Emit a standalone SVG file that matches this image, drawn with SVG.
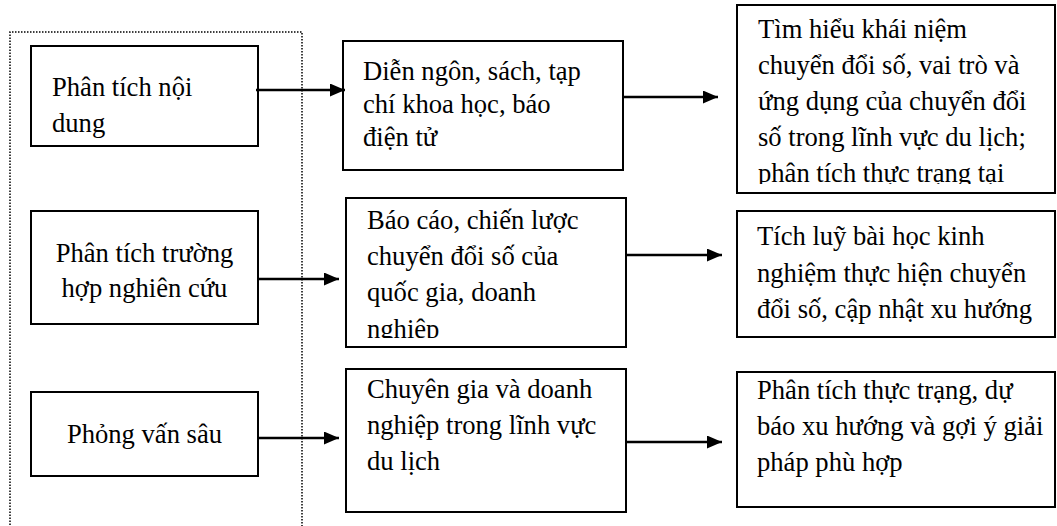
<svg xmlns="http://www.w3.org/2000/svg" width="1057" height="526" viewBox="0 0 1057 526">
<style>
.box{fill:#fff;stroke:#000;stroke-width:2}
.t{font-family:'Liberation Serif','DejaVu Serif',serif;font-size:26.6px;fill:#000}
.c{text-anchor:middle}
.conn line{stroke:#000;stroke-width:2.4}
</style>
<defs>
<marker id="ah" viewBox="0 0 15 13" refX="15" refY="6.5" markerWidth="15" markerHeight="13" markerUnits="userSpaceOnUse" orient="auto">
<path d="M0,0 L15,6.5 L0,13 Z" fill="#000"/>
</marker>
<clipPath id="clip1"><rect x="737" y="5" width="318" height="179"/></clipPath>
<clipPath id="clip2"><rect x="346" y="198" width="280" height="140"/></clipPath>
</defs>
<path id="frame" d="M10,540 L10,32 L302,32 L302,540" fill="none" stroke="#000" stroke-width="1.5" stroke-dasharray="1.5 1.5"/>
<g id="n1"><rect class="box" x="31" y="46" width="227" height="100"/>
<text class="t" x="52" y="96">Phân tích nội</text><text class="t" x="52" y="132">dung</text></g>
<g id="n2"><rect class="box" x="31" y="211" width="227" height="113"/>
<text class="t c" x="144.5" y="262">Phân tích trường</text><text class="t c" x="144.5" y="297">hợp nghiên cứu</text></g>
<g id="n3"><rect class="box" x="31" y="392" width="227" height="84"/>
<text class="t c" x="144.5" y="443">Phỏng vấn sâu</text></g>
<g id="n4"><rect class="box" x="343" y="41" width="280" height="129"/>
<text class="t" x="363" y="80">Diễn ngôn, sách, tạp</text><text class="t" x="363" y="113">chí khoa học, báo</text><text class="t" x="363" y="146">điện tử</text></g>
<g id="n5"><rect class="box" x="346" y="198" width="280" height="149"/>
<g clip-path="url(#clip2)"><text class="t" x="367" y="229">Báo cáo, chiến lược</text><text class="t" x="367" y="265">chuyển đổi số của</text><text class="t" x="367" y="301">quốc gia, doanh</text><text class="t" x="367" y="338">nghiệp</text></g></g>
<g id="n6"><rect class="box" x="346" y="369" width="280" height="143"/>
<text class="t" x="367" y="398">Chuyên gia và doanh</text><text class="t" x="367" y="434">nghiệp trong lĩnh vực</text><text class="t" x="367" y="470">du lịch</text></g>
<g id="n7"><rect class="box" x="737" y="5" width="318" height="188"/>
<g clip-path="url(#clip1)"><text class="t" x="758" y="38">Tìm hiểu khái niệm</text><text class="t" x="758" y="74">chuyển đổi số, vai trò và</text><text class="t" x="758" y="110">ứng dụng của chuyển đổi</text><text class="t" x="758" y="146">số trong lĩnh vực du lịch;</text><text class="t" x="758" y="182">phân tích thực trạng tại</text></g></g>
<g id="n8"><rect class="box" x="737" y="211" width="318" height="126"/>
<text class="t" x="757" y="245">Tích luỹ bài học kinh</text><text class="t" x="757" y="282">nghiệm thực hiện chuyển</text><text class="t" x="757" y="318">đổi số, cập nhật xu hướng</text></g>
<g id="n9"><rect class="box" x="737" y="372" width="318" height="135"/>
<text class="t" x="757" y="399">Phân tích thực trạng, dự</text><text class="t" x="757" y="435">báo xu hướng và gợi ý giải</text><text class="t" x="757" y="471">pháp phù hợp</text></g>
<g id="connectors" class="conn">
<line x1="256" y1="90" x2="345" y2="90" marker-end="url(#ah)"/>
<line x1="623" y1="97" x2="718" y2="97" marker-end="url(#ah)"/>
<line x1="258" y1="279" x2="339" y2="279" marker-end="url(#ah)"/>
<line x1="626" y1="255" x2="722" y2="255" marker-end="url(#ah)"/>
<line x1="258" y1="438" x2="339" y2="438" marker-end="url(#ah)"/>
<line x1="626" y1="442" x2="722" y2="442" marker-end="url(#ah)"/>
</g>
</svg>
